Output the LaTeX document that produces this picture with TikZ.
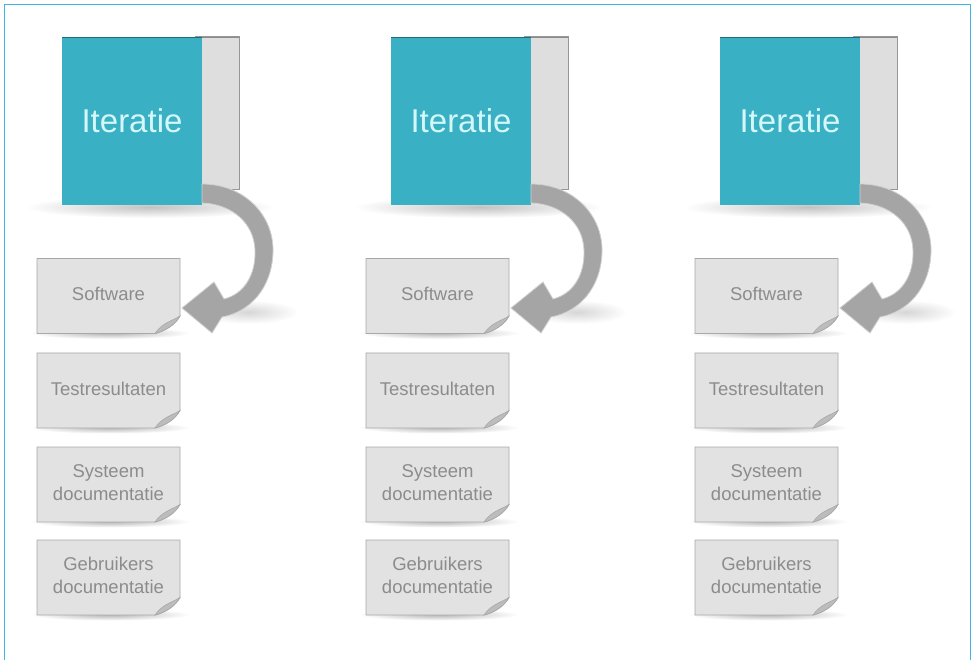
\documentclass[tikz,border=0pt]{standalone}
\usepackage{fontspec}
\setmainfont{Liberation Sans}
\usetikzlibrary{calc}

\definecolor{framecyan}{RGB}{60,184,224}
\definecolor{iterteal}{RGB}{58,176,196}
\definecolor{itertext}{RGB}{212,247,250}
\definecolor{barfill}{RGB}{222,222,222}
\definecolor{barline}{RGB}{150,150,150}
\definecolor{docfill}{RGB}{226,226,226}
\definecolor{docline}{RGB}{168,168,168}
\definecolor{doctext}{RGB}{140,140,140}
\definecolor{flapfill}{RGB}{188,188,188}
\definecolor{bandfill}{RGB}{165,165,165}
\definecolor{bandline}{RGB}{208,208,208}

\tikzset{
  itbox/.style={fill=iterteal, minimum width=140, minimum height=168,
    inner sep=0, text=itertext, font=\fontsize{33}{36}\selectfont},
  sidebar/.style={fill=barfill, draw=barline, line width=1},
  pagesheet/.style={fill=docfill, draw=docline, line width=0.9},
  pageflap/.style={fill=flapfill, draw=docline, line width=0.6},
  doclabel/.style={minimum width=143, minimum height=75, inner sep=0,
    text=doctext, align=center, font=\fontsize{18.5}{23.5}\selectfont},
  bendarrow/.style={fill=bandfill, draw=bandline, line width=0.8},
  softshadow/.style={inner color=black!#1, outer color=white},
}

% one document sheet with a curled corner: name, centre y, label
\newcommand{\docsheet}[3]{%
  \shade[softshadow=30] (110,{#2+37}) ellipse (80 and 6);
  \path[pagesheet] (37,{#2-37.5}) -- (180,{#2-37.5}) -- (180,{#2+20})
     .. controls (175,{#2+29}) and (165,{#2+35}) .. (155,{#2+37.5})
     -- (37,{#2+37.5}) -- cycle;
  \path[pageflap] (155,{#2+37.5})
     .. controls (165,{#2+35}) and (175,{#2+29}) .. (180,{#2+20})
     .. controls (172,{#2+25}) and (162,{#2+27}) .. cycle;
  \node[doclabel] (#1) at (108.5,{#2-2}) {#3};
}

\begin{document}
\begin{tikzpicture}[x=1pt,y=-1pt]
  \useasboundingbox (0,0) rectangle (975,660);
  \fill[white] (0,0) rectangle (975,660);

  % outer frame, open at the bottom
  \draw[framecyan, line width=1.8] (4.5,660) -- (4.5,4.5) -- (970.5,4.5) -- (970.5,660);

  \foreach \c/\dx in {1/0,2/329,3/658}{
    \begin{scope}[xshift=\dx pt]
      % shadows under the iteration block and beside the arrow head
      \shade[softshadow=24] (150,207) ellipse (125 and 11);
      \shade[softshadow=16] (248,312) ellipse (50 and 12);

      % grey side panel behind the iteration block
      \path[sidebar] (195,37) rectangle (239,190);
      \draw[black!45, line width=1] (195,37.5) -- (239,37.5);

      % iteration block
      \node[itbox] (iter\c) at (132,121) {Iteratie};
      \draw[black!40!iterteal, line width=1] (62,37.5) -- (202,37.5);

      % deliverables
      \docsheet{sw\c}{296}{Software}
      \docsheet{tr\c}{390.5}{Testresultaten}
      \docsheet{sd\c}{484.5}{Systeem\\documentatie}
      \docsheet{gd\c}{577.5}{Gebruikers\\documentatie}

      % curved arrow from the block down to the software sheet
      \path[bendarrow] (202,184)
        .. controls (244,184) and (274,215) .. (273,252)
        .. controls (272,288) and (250,312) .. (222,317)
        -- (212,333) -- (182,308) -- (214,282) -- (224,299)
        .. controls (244,294) and (256,275) .. (255,250)
        .. controls (254,223) and (232,204) .. (202,203) -- cycle;
    \end{scope}
  }
\end{tikzpicture}
\end{document}
